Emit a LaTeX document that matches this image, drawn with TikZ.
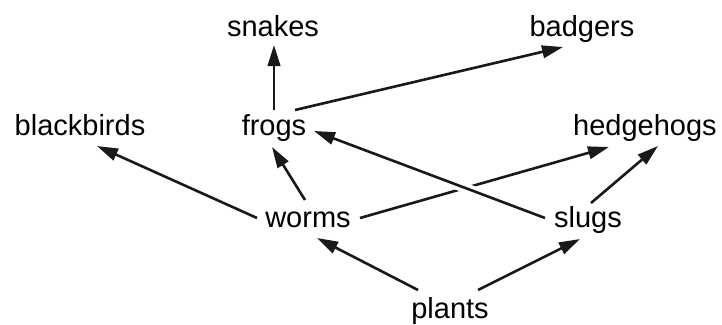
\documentclass[tikz,border=0pt]{standalone}
\usepackage{fontspec}
\setmainfont{Liberation Sans}
\usetikzlibrary{arrows.meta}
\begin{document}
\begin{tikzpicture}[x=1pt,y=-1pt,
  lbl/.style={anchor=base,inner sep=0pt,font=\fontsize{29}{34}\selectfont},
  arr/.style={line width=2.6pt,-{Triangle[length=21pt,width=12.5pt]},black!90},
  bridge/.style={preaction={draw=white,line width=10pt,-}}]
\useasboundingbox (0,0) rectangle (722,324);
\node[lbl] (snakes) at (273,36) {snakes};
\node[lbl] (badgers) at (582,36) {badgers};
\node[lbl] (blackbirds) at (80,135) {blackbirds};
\node[lbl] (frogs) at (274,135) {frogs};
\node[lbl] (hedgehogs) at (645,135) {hedgehogs};
\node[lbl] (worms) at (308,227) {worms};
\node[lbl] (slugs) at (588,227) {slugs};
\node[lbl] (plants) at (450,318) {plants};
\draw[arr] ([shift={(0,-25)}]frogs.base) -- ([shift={(1,9)}]snakes.base);
\draw[arr] ([shift={(21,-25)}]frogs.base) -- ([shift={(-19,11)}]badgers.base);
\draw[arr] ([shift={(-51,-9)}]worms.base) -- ([shift={(17,11)}]blackbirds.base);
\draw[arr] ([shift={(-3,-27)}]worms.base) -- ([shift={(-2,12)}]frogs.base);
\draw[arr] ([shift={(52,-9)}]worms.base) -- ([shift={(-36,12)}]hedgehogs.base);
\draw[arr,bridge] ([shift={(-43,-9)}]slugs.base) -- ([shift={(40,-4)}]frogs.base);
\draw[arr] ([shift={(3,-24)}]slugs.base) -- ([shift={(13,11)}]hedgehogs.base);
\draw[arr] ([shift={(-32,-28)}]plants.base) -- ([shift={(9,11)}]worms.base);
\draw[arr] ([shift={(28,-28)}]plants.base) -- ([shift={(-8,12)}]slugs.base);
\end{tikzpicture}
\end{document}
